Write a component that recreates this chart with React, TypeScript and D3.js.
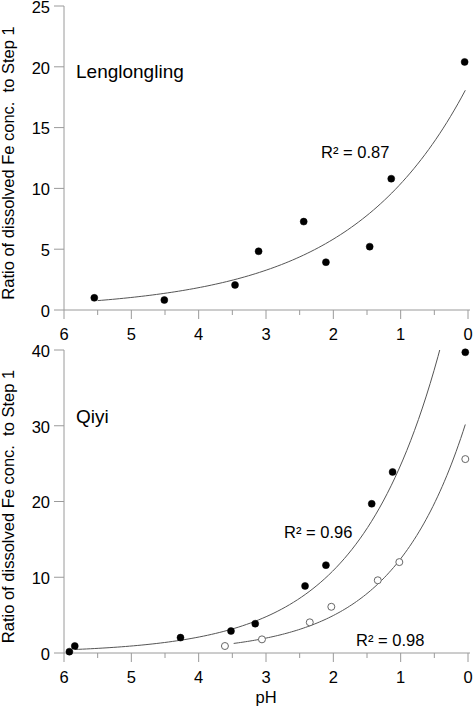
import React from "react";
import * as d3 from "d3";

// values: pH of each step and Fe ratio to step 1
const lengPH = [5.55, 4.51, 3.46, 3.11, 2.44, 2.11, 1.46, 1.14, 0.05];
const lengRatio = [1.0, 0.82, 2.06, 4.83, 7.27, 3.93, 5.21, 10.8, 20.4];

const qiyiPH = [5.92, 5.84, 4.27, 3.52, 3.16, 2.42, 2.11, 1.43, 1.12, 0.04];
const qiyiRatio = [0.18, 0.92, 2.03, 2.9, 3.87, 8.85, 11.6, 19.7, 23.9, 39.7];

const qiyiOpenPH = [3.61, 3.06, 2.35, 2.03, 1.34, 1.02, 0.04];
const qiyiOpenRatio = [0.92, 1.8, 4.05, 6.1, 9.6, 12.0, 25.6];

const xTicks = [6, 5, 4, 3, 2, 1, 0];
const lengYTicks = [0, 5, 10, 15, 20, 25];
const qiyiYTicks = [0, 10, 20, 30, 40];

const font = "'Liberation Sans', Arial, sans-serif";
const axisColor = "#9a9a9a";
const curveColor = "#555";

// exponential trend y = a * exp(b * x), fitted on ln(y) like a spreadsheet trendline
function expFit(xs: number[], ys: number[]) {
  const ly = ys.map((v) => Math.log(v));
  const mx = d3.mean(xs)!;
  const my = d3.mean(ly)!;
  let sxy = 0;
  let sxx = 0;
  xs.forEach((x, i) => {
    sxy += (x - mx) * (ly[i] - my);
    sxx += (x - mx) * (x - mx);
  });
  const b = sxy / sxx;
  const a = Math.exp(my - b * mx);
  return (x: number) => a * Math.exp(b * x);
}

interface Series {
  ph: number[];
  ratio: number[];
  open?: boolean;
  from: number;
  to: number;
}

interface PanelProps {
  id: string;
  top: number;
  bottom: number;
  yMax: number;
  yTicks: number[];
  title: string;
  titleY: number;
  series: Series[];
  notes: { text: string; x: number; y: number }[];
  xLabel?: string;
}

const Panel = ({ id, top, bottom, yMax, yTicks, title, titleY, series, notes, xLabel }: PanelProps) => {
  const x = d3.scaleLinear().domain([6, 0]).range([64, 468]);
  const y = d3.scaleLinear().domain([0, yMax]).range([bottom, top]);
  const minor = d3.range(0.5, 6, 1);

  return (
    <g>
      <defs>
        <clipPath id={id}>
          <rect x={64} y={top} width={410} height={bottom - top} />
        </clipPath>
      </defs>

      {/* y axis */}
      <line x1={64} x2={64} y1={top} y2={bottom} stroke={axisColor} />
      {yTicks.map((t) => (
        <g key={t}>
          <line x1={54} x2={64} y1={y(t)} y2={y(t)} stroke={axisColor} />
          <text x={50} y={Math.max(y(t) + 1, 7.5)} dy="0.35em" textAnchor="end" fontSize={16.5}>
            {t}
          </text>
        </g>
      ))}

      {/* x axis */}
      <line x1={64} x2={470} y1={bottom} y2={bottom} stroke={axisColor} />
      {xTicks.map((t) => (
        <g key={t}>
          <line x1={x(t)} x2={x(t)} y1={bottom} y2={bottom + 9} stroke={axisColor} />
          <text x={x(t)} y={bottom + 30} textAnchor="middle" fontSize={16.5}>
            {t}
          </text>
        </g>
      ))}
      {minor.map((t) => (
        <line key={t} x1={x(t)} x2={x(t)} y1={bottom} y2={bottom + 5} stroke={axisColor} />
      ))}

      <text
        transform={`translate(14,${(top + bottom) / 2 + 5}) rotate(-90)`}
        textAnchor="middle"
        fontSize={16.5}
        style={{ whiteSpace: "pre" }}
      >
        {"Ratio of dissolved Fe conc.  to Step 1"}
      </text>

      <text x={76} y={titleY} fontSize={19}>
        {title}
      </text>

      {series.map((s, i) => {
        const f = expFit(s.ph, s.ratio);
        const pts = d3.range(0, 101).map((k) => s.from + ((s.to - s.from) * k) / 100);
        const line = d3
          .line<number>()
          .x((p) => x(p))
          .y((p) => y(f(p)));
        return (
          <g key={i}>
            <path d={line(pts)!} fill="none" stroke={curveColor} strokeWidth={1} clipPath={`url(#${id})`} />
            {s.ph.map((p, j) => (
              <circle
                key={j}
                cx={x(p)}
                cy={y(s.ratio[j])}
                r={3.5}
                fill={s.open ? "#fff" : "#000"}
                stroke={s.open ? "#666" : "#000"}
                strokeWidth={s.open ? 1 : 0.5}
              />
            ))}
          </g>
        );
      })}

      {notes.map((n, i) => (
        <text key={i} x={n.x} y={n.y} fontSize={16.5}>
          {n.text}
        </text>
      ))}

      {xLabel && (
        <text x={x(3)} y={703} textAnchor="middle" fontSize={16.5}>
          {xLabel}
        </text>
      )}
    </g>
  );
};

export default function App() {
  return (
    <svg
      width={473}
      height={707}
      style={{ position: "absolute", left: 0, top: 0, background: "#fff" }}
      fontFamily={font}
    >
      <Panel
        id="clipTop"
        top={6}
        bottom={310}
        yMax={25}
        yTicks={lengYTicks}
        title="Lenglongling"
        titleY={78}
        series={[{ ph: lengPH, ratio: lengRatio, from: 5.5, to: 0.04 }]}
        notes={[{ text: "R² = 0.87", x: 321, y: 158 }]}
      />
      <Panel
        id="clipBottom"
        top={350}
        bottom={653}
        yMax={40}
        yTicks={qiyiYTicks}
        title="Qiyi"
        titleY={423}
        series={[
          { ph: qiyiPH, ratio: qiyiRatio, from: 5.84, to: 0.04 },
          { ph: qiyiOpenPH, ratio: qiyiOpenRatio, open: true, from: 3.48, to: 0.04 },
        ]}
        notes={[
          { text: "R² = 0.96", x: 284, y: 538 },
          { text: "R² = 0.98", x: 356, y: 646 },
        ]}
        xLabel="pH"
      />
    </svg>
  );
}
